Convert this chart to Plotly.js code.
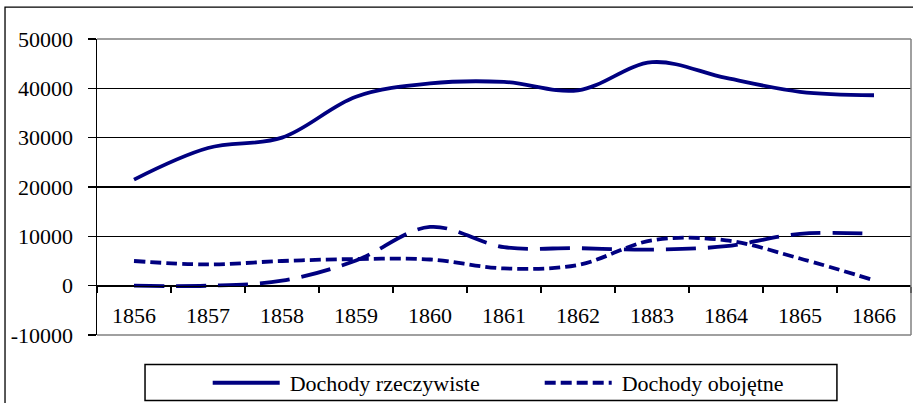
<!DOCTYPE html>
<html>
<head>
<meta charset="utf-8">
<script src="https://cdn.plot.ly/plotly-3.0.1.min.js"></script>
<style>html,body{margin:0;padding:0;background:#fff;}</style>
</head>
<body>
<div id="chart" style="width:913px;height:403px;"></div>
<script>
const years = ["1856","1857","1858","1859","1860","1861","1862","1883","1864","1865","1866"];
const dochodyRzeczywiste = [21500, 27900, 30000, 38300, 41000, 41300, 39600, 45300, 42100, 39300, 38600];
const dochodyObojetne = [5000, 4300, 5000, 5400, 5300, 3500, 4200, 9200, 9200, 5500, 1100];
const seriaTrzecia = [0, 0, 1000, 5100, 11900, 7800, 7600, 7300, 8000, 10500, 10500];
const yTickVals = [-10000, 0, 10000, 20000, 30000, 40000, 50000];
const yTickText = ["-10000", "0", "10000", "20000", "30000", "40000", "50000"];

const navy = "#000080";
const traces = [
  {x: years, y: dochodyRzeczywiste, name: "Dochody rzeczywiste", type: "scatter", mode: "lines",
   line: {color: navy, width: 3.8, shape: "spline", smoothing: 1}},
  {x: years, y: dochodyObojetne, name: "Dochody obojętne", type: "scatter", mode: "lines",
   line: {color: navy, width: 3.8, shape: "spline", smoothing: 1, dash: "11px,5px"}},
  {x: years, y: seriaTrzecia, name: "Seria 3", type: "scatter", mode: "lines", showlegend: false,
   line: {color: navy, width: 3.8, shape: "spline", smoothing: 1, dash: "30px,12px"}}
];

const font = {family: "Liberation Serif", size: 22, color: "#000"};
const layout = {
  width: 913, height: 403,
  margin: {l: 97, r: 2, t: 39, b: 68, pad: 0, autoexpand: false},
  paper_bgcolor: "#fff", plot_bgcolor: "#fff",
  font: font,
  showlegend: true,
  legend: {orientation: "h", x: 0.136, y: -0.162, xanchor: "left", yanchor: "middle",
           font: font, bgcolor: "rgba(0,0,0,0)", itemwidth: 72,
           entrywidth: 245, entrywidthmode: "pixels"},
  xaxis: {type: "category", categoryorder: "array", categoryarray: years, range: [-0.5, 10.5],
          anchor: "free", position: 1/6, showline: true, linecolor: "#000", linewidth: 1.5,
          ticks: "outside", tickson: "boundaries", ticklen: 6, tickwidth: 1.5, tickcolor: "#000",
          showgrid: false, zeroline: false, ticklabelstandoff: 9, tickfont: font, fixedrange: true},
  yaxis: {range: [-10000, 50000], tickvals: yTickVals, ticktext: yTickText,
          showline: true, linecolor: "#000", linewidth: 1.5, ticks: "outside", ticklen: 8,
          tickwidth: 1.5, tickcolor: "#000", showgrid: true, gridcolor: "#000", gridwidth: 1.3,
          zeroline: false, ticklabelstandoff: 10, tickfont: font, fixedrange: true},
  shapes: [
    {type: "line", xref: "paper", yref: "paper", x0: 0, x1: 1, y0: 1, y1: 1, line: {color: "#808080", width: 1.5}},
    {type: "line", xref: "paper", yref: "paper", x0: 1, x1: 1, y0: 0, y1: 1, line: {color: "#808080", width: 1.5}},
    {type: "line", xref: "paper", yref: "paper", x0: 0, x1: 1, y0: 0, y1: 0, line: {color: "#808080", width: 1.5}},
    {type: "rect", xref: "paper", yref: "paper", x0: -0.113, x1: 1.05, y0: -0.35, y1: 1.108, line: {color: "#000", width: 1.3}},
    {type: "rect", xref: "paper", yref: "paper", x0: 0.059, x1: 0.909, y0: -0.221, y1: -0.0995, line: {color: "#000", width: 1.5}}
  ]
};

Plotly.newPlot("chart", traces, layout, {staticPlot: true, displayModeBar: false}).then(function (gd) {
  gd.querySelectorAll(".legend .legendlines path").forEach(function (p) {
    p.setAttribute("d", "M5,0h67");
  });
});
</script>
</body>
</html>
